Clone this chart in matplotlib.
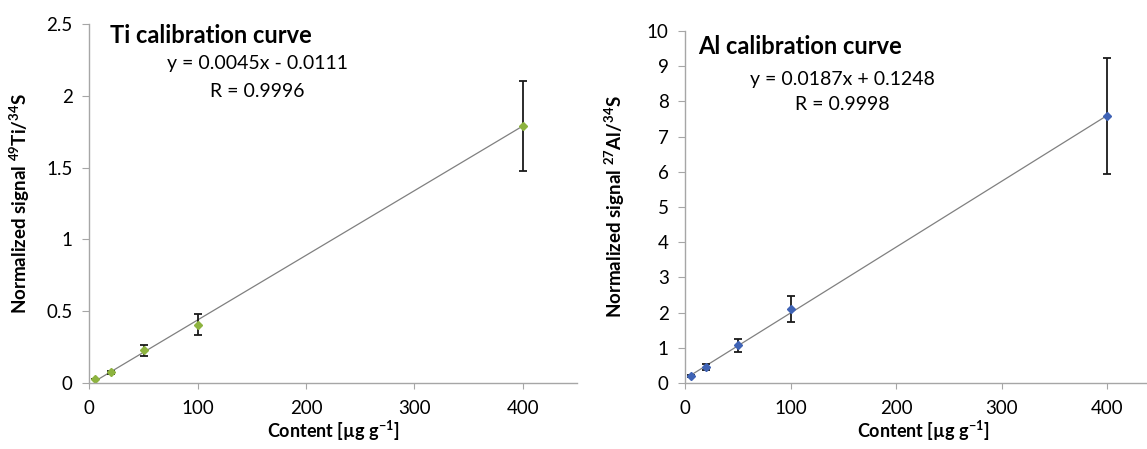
import numpy as np
import matplotlib.pyplot as plt

plt.rcParams['font.family'] = ['Lato', 'DejaVu Sans']
plt.rcParams['mathtext.fontset'] = 'custom'
plt.rcParams['mathtext.rm'] = 'Lato'
plt.rcParams['mathtext.bf'] = 'Lato:bold'

# Ti calibration data
ti_x = [5, 20, 50, 100, 400]
ti_y = [0.025, 0.076, 0.227, 0.405, 1.79]
ti_err = [0.0, 0.01, 0.04, 0.073, 0.316]
ti_slope, ti_icpt = 0.0045, -0.0111

# Al calibration data
al_x = [5, 20, 50, 100, 400]
al_y = [0.20, 0.46, 1.07, 2.09, 7.59]
al_err = [0.03, 0.08, 0.19, 0.37, 1.65]
al_slope, al_icpt = 0.0187, 0.1248

fig = plt.figure(figsize=(11.47, 4.49), dpi=100)
ax1 = fig.add_axes([0.0779, 0.147, 0.425, 0.7996])
ax2 = fig.add_axes([0.5975, 0.147, 0.414, 0.784])

gray = '#a6a6a6'

def style(ax):
    for s in ['top', 'right']:
        ax.spines[s].set_visible(False)
    for s in ['left', 'bottom']:
        ax.spines[s].set_color(gray)
        ax.spines[s].set_linewidth(1.0)
    ax.tick_params(axis='y', colors=gray, labelcolor='black', labelsize=13.5,
                   length=5, pad=7, direction='out')
    ax.tick_params(axis='x', colors=gray, labelcolor='black', labelsize=13.5,
                   length=4.5, pad=8, direction='out')
    ax.set_xlim(0, 450)
    ax.set_xticks([0, 100, 200, 300, 400])
    ax.set_xlabel('Content [µg g$^{\\mathbf{-1}}$]', fontsize=13,
                  fontweight='bold', labelpad=1)

xs = np.array([5, 400])

# Ti panel
ax1.plot(xs, ti_slope * xs + ti_icpt, color='#808080', lw=0.9, zorder=1)
ax1.errorbar(ti_x, ti_y, yerr=ti_err, fmt='D', color='#8db33f', ms=4,
             ecolor='#1a1a1a', elinewidth=1.3, capsize=3, capthick=1.3, zorder=2)
style(ax1)
ax1.set_ylim(0, 2.5)
ax1.set_yticks([0, 0.5, 1, 1.5, 2, 2.5])
ax1.set_yticklabels(['0', '0.5', '1', '1.5', '2', '2.5'])
ax1.set_ylabel('Normalized signal $^{\\mathbf{49}}$Ti/$^{\\mathbf{34}}$S',
               fontsize=13.5, fontweight='bold')
ax1.yaxis.set_label_coords(-0.118, 0.5)
ax1.text(0.0425, 0.967, 'Ti calibration curve', transform=ax1.transAxes,
         fontsize=17, fontweight='bold', va='center')
ax1.text(0.344, 0.891, 'y = 0.0045x - 0.0111', transform=ax1.transAxes,
         fontsize=14, ha='center', va='center')
ax1.text(0.344, 0.811, 'R = 0.9996', transform=ax1.transAxes,
         fontsize=14, ha='center', va='center')

# Al panel
ax2.plot(xs, al_slope * xs + al_icpt, color='#808080', lw=0.9, zorder=1)
ax2.errorbar(al_x, al_y, yerr=al_err, fmt='D', color='#3f63b5', ms=4,
             ecolor='#1a1a1a', elinewidth=1.3, capsize=3, capthick=1.3, zorder=2)
style(ax2)
ax2.set_ylim(0, 10)
ax2.set_yticks(range(0, 11))
ax2.set_ylabel('Normalized signal $^{\\mathbf{27}}$Al/$^{\\mathbf{34}}$S',
               fontsize=13.5, fontweight='bold')
ax2.yaxis.set_label_coords(-0.123, 0.5)
ax2.text(0.027, 0.955, 'Al calibration curve', transform=ax2.transAxes,
         fontsize=17, fontweight='bold', va='center')
ax2.text(0.33, 0.861, 'y = 0.0187x + 0.1248', transform=ax2.transAxes,
         fontsize=14, ha='center', va='center')
ax2.text(0.33, 0.79, 'R = 0.9998', transform=ax2.transAxes,
         fontsize=14, ha='center', va='center')

fig.savefig('out.png', dpi=100)
